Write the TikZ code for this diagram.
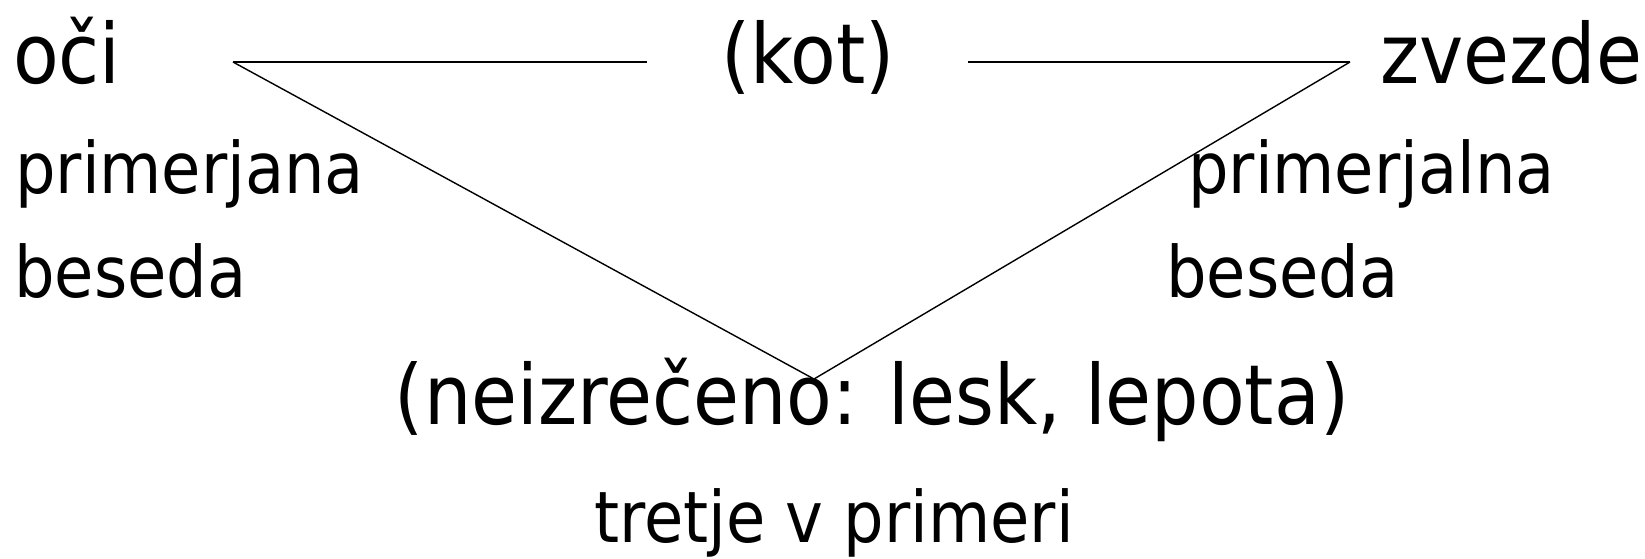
\documentclass[tikz,border=0pt]{standalone}
\usepackage{fontspec}
\setmainfont{DejaVu Sans Condensed}
\begin{document}
\begin{tikzpicture}[x=1pt,y=-1pt,
  big/.style={inner sep=0pt, font=\fontsize{83}{94}\selectfont},
  mid/.style={inner sep=0pt, font=\fontsize{71}{80}\selectfont},
  conn/.style={line width=1.4pt}]
\useasboundingbox (0,0) rectangle (1645,558);
\node[big, anchor=base west] (oci) at (13,83) {oči};
\node[big, anchor=base] (kot) at (808,83) {(kot)};
\node[big, anchor=base west] (zvezde) at (1380,83) {zvezde};
\node[mid, anchor=base west] (prim1) at (15,193) {primerjana};
\node[mid, anchor=base west] (bes1) at (14,297) {beseda};
\node[mid, anchor=base west] (prim2) at (1188,193) {primerjalna};
\node[mid, anchor=base west] (bes2) at (1166,297) {beseda};
\node[big, anchor=base] (neiz) at (872,424) {(neizrečeno: lesk, lepota)};
\node[mid, anchor=base] (tretje) at (834,542) {tretje v primeri};
\coordinate (L) at (233,62);
\coordinate (LE) at (647,62);
\coordinate (RS) at (968,62);
\coordinate (R) at (1350,62);
\coordinate (A) at (814,379);
\draw[conn] (L) -- (LE);
\draw[conn] (RS) -- (R);
\draw[conn] (L) -- (A) -- (R);
\end{tikzpicture}
\end{document}
